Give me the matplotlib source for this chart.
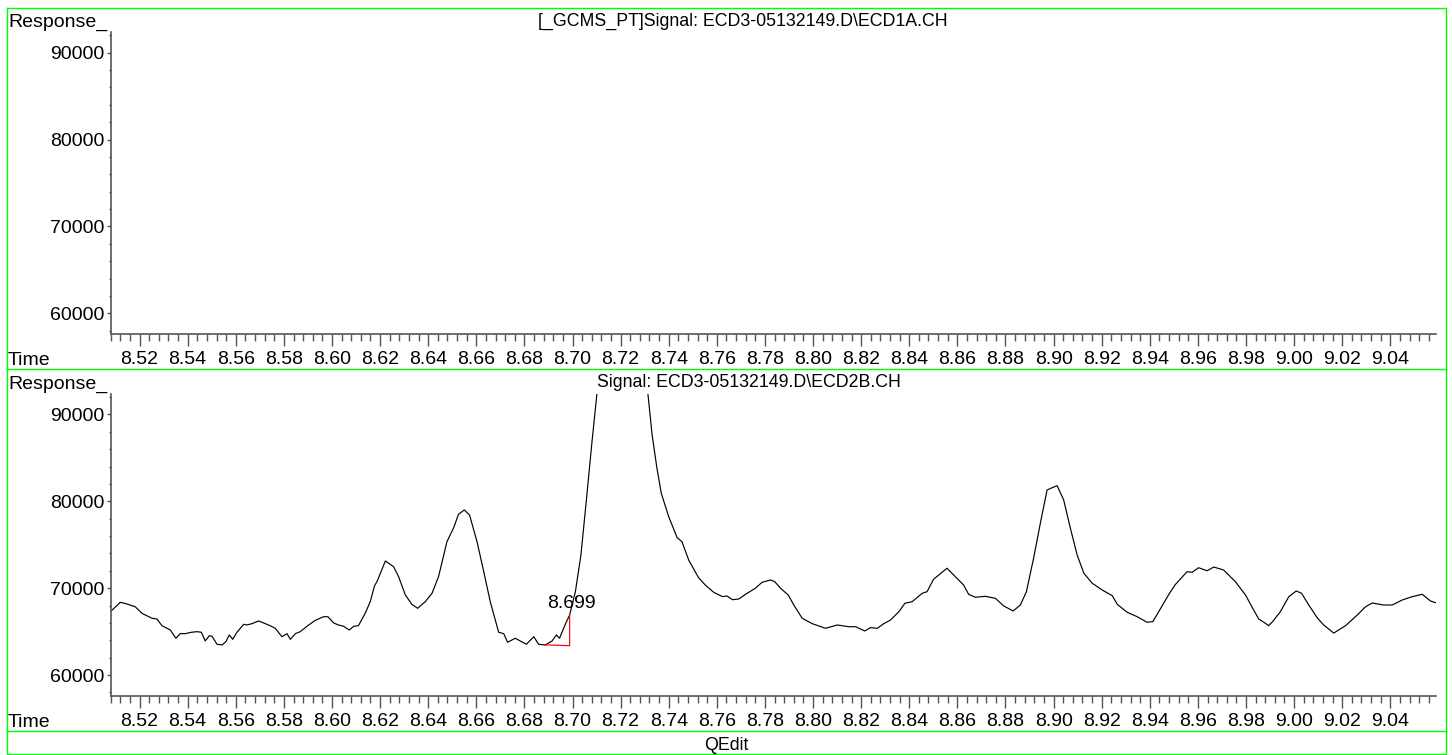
import matplotlib
matplotlib.use('Agg')
import matplotlib.pyplot as plt
from matplotlib.lines import Line2D
from matplotlib.ticker import MultipleLocator, FormatStrFormatter

W, H = 1452, 755
FS = 14
FS_TITLE = 12.8
plt.rcParams['font.family'] = ['Liberation Sans', 'DejaVu Sans']

# retention time (min) and detector response for signal ECD2B
time = [
    8.5082, 8.5120, 8.5147, 8.5182, 8.5210, 8.5252, 8.5272, 8.5293, 8.5328, 8.5351,
    8.5369, 8.5390, 8.5415, 8.5439, 8.5457, 8.5473, 8.5490, 8.5501, 8.5522, 8.5543,
    8.5559, 8.5573, 8.5587, 8.5605, 8.5633, 8.5646, 8.5667, 8.5695, 8.5716, 8.5743,
    8.5764, 8.5792, 8.5813, 8.5827, 8.5848, 8.5868, 8.5903, 8.5931, 8.5965, 8.5983,
    8.6007, 8.6027, 8.6048, 8.6072, 8.6090, 8.6110, 8.6138, 8.6159, 8.6177,
    8.6187, 8.6222, 8.6256, 8.6277, 8.6305, 8.6332, 8.6356, 8.6388, 8.6416, 8.6443,
    8.6478, 8.6506, 8.6526, 8.6550, 8.6572, 8.6603, 8.6631, 8.6658, 8.6693, 8.6714,
    8.6730, 8.6762, 8.6783, 8.6808, 8.6839, 8.6859, 8.6887, 8.6915, 8.6933, 8.6946,
    8.6970, 8.6988, 8.7012, 8.7035, 8.7057, 8.7081, 8.7101,
    8.7150, 8.7210, 8.7270,  # apex is off scale, estimated
    8.7314, 8.7331, 8.7351, 8.7369, 8.7400, 8.7435, 8.7455, 8.7483, 8.7524, 8.7552,
    8.7587, 8.7624, 8.7642, 8.7665, 8.7691, 8.7726, 8.7760, 8.7788, 8.7823, 8.7841,
    8.7865, 8.7897, 8.7920, 8.7955, 8.7997, 8.8052, 8.8101, 8.8149, 8.8177, 8.8215,
    8.8239, 8.8267, 8.8294, 8.8322, 8.8357, 8.8382,
    8.8412, 8.8454, 8.8474, 8.8501, 8.8557, 8.8592, 8.8626, 8.8647, 8.8675, 8.8716,
    8.8758, 8.8793, 8.8832, 8.8862, 8.8887, 8.8917, 8.8945, 8.8973, 8.8994, 8.9015,
    8.9042, 8.9070, 8.9098, 8.9126, 8.9161, 8.9202, 8.9244, 8.9265, 8.9306, 8.9348,
    8.9389, 8.9413, 8.9458, 8.9482,
    8.9507, 8.9555, 8.9576, 8.9603, 8.9638, 8.9666, 8.9707, 8.9756, 8.9798, 8.9828,
    8.9853, 8.9881, 8.9894, 8.9911, 8.9943, 8.9978, 9.0009, 9.0031, 9.0061, 9.0096,
    9.0123, 9.0165, 9.0214, 9.0263, 9.0297, 9.0325, 9.0371, 9.0408, 9.0450, 9.0491,
    9.0533, 9.0567, 9.0595,
]
response = [
    67370, 68370, 68180, 67860, 67100, 66530, 66450, 65680, 65180, 64230,
    64760, 64760, 64920, 64990, 64920, 63920, 64530, 64460, 63540, 63460,
    63840, 64610, 64110, 64920, 65840, 65760, 65910, 66220, 65990, 65680,
    65380, 64410, 64760, 64110, 64760, 64990, 65760, 66300, 66710, 66710,
    65990, 65760, 65610, 65180, 65610, 65680, 67100, 68440, 70280,
    70740, 73130, 72470, 71320, 69210, 68140, 67680, 68440, 69410, 71320,
    75350, 76960, 78500, 79000, 78420, 75350, 71890, 68440, 64920, 64760,
    63770, 64230, 63920, 63540, 64410, 63540, 63460, 63920, 64610, 64230,
    65840, 66910, 69590, 73820, 79950, 86860, 92230,
    101000, 105000, 100000,
    92230, 87630, 83800, 80920, 78220, 75810, 75350, 73240, 71200, 70360,
    69520, 69020, 69100, 68670, 68750, 69410, 69980, 70670, 70940, 70740,
    69980, 69210, 68060, 66530, 65910, 65380, 65760, 65560, 65560, 65070,
    65450, 65380, 65910, 66330, 67290, 68260,
    68440, 69410, 69590, 71020, 72290, 71320, 70360, 69290, 68950, 69060,
    68830, 67950, 67370, 68060, 69590, 73440, 77470, 81300, 81560, 81790,
    80150, 76890, 73820, 71710, 70560, 69790, 69130, 68140, 67220, 66710,
    66070, 66150, 68260, 69410,
    70440, 71890, 71820, 72350, 72000, 72430, 72090, 70740, 69210, 67680,
    66450, 65950, 65680, 66150, 67290, 69020, 69670, 69410, 68060, 66600,
    65760, 64830, 65680, 66910, 67860, 68290, 68060, 68060, 68640, 69020,
    69290, 68520, 68260,
]

# integration baseline of the peak at 8.699
base_time = [8.6887, 8.6988, 8.6988]
base_resp = [63460, 63380, 66910]
peak_label = '8.699'
peak_pos = (8.6995, 67250)

titles = ['[_GCMS_PT]Signal: ECD3-05132149.D\\ECD1A.CH',
          'Signal: ECD3-05132149.D\\ECD2B.CH']
xlim = (8.508, 9.059)
ylim = (57620, 92380)

fig = plt.figure(figsize=(W / 100, H / 100), dpi=100)


def box(x0, y0, x1, y1):
    return [x0 / W, 1 - y1 / H, (x1 - x0) / W, (y1 - y0) / H]


def ftext(x, y, s, size=FS, **kw):
    fig.text(x / W, 1 - y / H, s, fontsize=size, va='baseline', **kw)


def fline(xs, ys):
    fig.add_artist(Line2D([x / W for x in xs], [1 - y / H for y in ys],
                          color='#00ff00', lw=1.0, transform=fig.transFigure))


gray = '#555555'
axes = []
for i, off in enumerate([0, 361.7]):
    ax = fig.add_axes(box(110.7, 32 + off, 1436, 334 + off))
    ax.set_xlim(*xlim)
    ax.set_ylim(*ylim)
    for s in ['top', 'right']:
        ax.spines[s].set_visible(False)
    for s in ['left', 'bottom']:
        ax.spines[s].set_color(gray)
        ax.spines[s].set_linewidth(1.2)
    ax.xaxis.set_major_locator(MultipleLocator(0.02))
    ax.xaxis.set_minor_locator(MultipleLocator(0.004))
    ax.xaxis.set_major_formatter(FormatStrFormatter('%.2f'))
    ax.yaxis.set_major_locator(MultipleLocator(10000))
    ax.yaxis.set_minor_locator(MultipleLocator(2000))
    ax.tick_params(axis='x', which='major', length=8.5, width=1, color=gray,
                   pad=4, labelsize=FS)
    ax.tick_params(axis='x', which='minor', length=5, width=1, color=gray)
    ax.tick_params(axis='y', which='major', length=3, width=1, color=gray,
                   pad=1.5, labelsize=FS)
    ax.tick_params(axis='y', which='minor', length=1.5, width=1, color=gray)
    ax.patch.set_alpha(0)
    ftext(8, 27 + off, 'Response_')
    ftext(8, 365 + off, 'Time')
    axes.append(ax)

ftext(538, 26, titles[0], size=FS_TITLE)
ftext(597, 387.5, titles[1], size=FS_TITLE)

ax = axes[1]
ax.plot(time, response, color='black', lw=0.85)
ax.plot(base_time, base_resp, color='red', lw=0.85)
ax.text(peak_pos[0], peak_pos[1], peak_label, fontsize=FS, ha='center',
        va='bottom')

ftext(726, 750, 'QEdit', size=FS_TITLE, ha='center')

# green frame and panel separators
fline([7, 1446, 1446, 7, 7], [8, 8, 754, 754, 8])
fline([7, 1446], [369, 369])
fline([7, 1446], [731, 731])

fig.savefig('out.png', dpi=100)
